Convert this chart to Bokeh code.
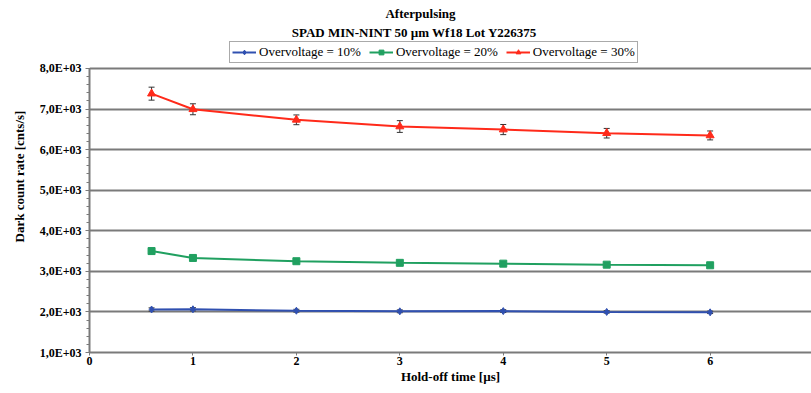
from bokeh.plotting import figure
from bokeh.models import (Legend, LegendItem, Label, Whisker, ColumnDataSource,
                          FixedTicker, Range1d)
from bokeh.embed import file_html
from bokeh.resources import INLINE

# ---- data ----
hold_off = [0.6, 1, 2, 3, 4, 5, 6]
ov10 = [2060, 2065, 2030, 2015, 2020, 2000, 1990]
ov10_err = [40, 40, 35, 35, 35, 30, 30]
ov20 = [3500, 3330, 3250, 3210, 3190, 3165, 3150]
ov20_err = [70, 60, 50, 50, 45, 45, 45]
ov30 = [7380, 6995, 6735, 6570, 6495, 6405, 6350]
ov30_err = [160, 135, 120, 145, 125, 118, 110]
series_names = ["Overvoltage = 10%", "Overvoltage = 20%", "Overvoltage = 30%"]
x_ticks = [0, 1, 2, 3, 4, 5, 6]
y_ticks = [1000, 2000, 3000, 4000, 5000, 6000, 7000, 8000]
y_tick_labels = ["1,0E+03", "2,0E+03", "3,0E+03", "4,0E+03", "5,0E+03",
                 "6,0E+03", "7,0E+03", "8,0E+03"]
title1 = "Afterpulsing"
title2 = "SPAD MIN-NINT 50 \u00b5m Wf18 Lot Y226375"
x_label = "Hold-off time [\u00b5s]"
y_label = "Dark count rate [cnts/s]"

colors = ["#3050b0", "#20a060", "#ff2a1a"]
SERIF = "'Liberation Serif', serif"

Y_MIN, Y_MAX = 1000, 8000
# frame extends above the value axis to host the titles and the legend
p = figure(width=811, height=393, output_backend="svg", toolbar_location=None,
           x_range=Range1d(0, 6.98), y_range=Range1d(Y_MIN, 9676),
           min_border_left=89, min_border_top=0, min_border_bottom=41,
           min_border_right=0)
p.outline_line_color = None
p.background_fill_color = "white"
p.title.visible = False

# grid
p.xgrid.grid_line_color = None
p.ygrid.grid_line_color = "#7a7a7a"
p.ygrid.grid_line_width = 2
p.ygrid.ticker = FixedTicker(ticks=y_ticks)

# axes
p.xaxis.ticker = FixedTicker(ticks=x_ticks)
p.yaxis.ticker = FixedTicker(ticks=y_ticks,
                             minor_ticks=[v for v in range(1000, 8001, 200)])
p.yaxis.bounds = (Y_MIN, Y_MAX)
p.yaxis.major_label_overrides = {v: l for v, l in zip(y_ticks, y_tick_labels)}
for ax in (p.xaxis[0], p.yaxis[0]):
    ax.axis_line_color = "#7a7a7a"
    ax.axis_line_width = 2
    ax.major_tick_line_color = "#7a7a7a"
    ax.minor_tick_line_color = "#7a7a7a"
    ax.major_label_text_font = SERIF
    ax.major_label_text_font_style = "bold"
    ax.major_label_text_font_size = "12px"
    ax.major_label_text_color = "black"
    ax.axis_label_text_font = SERIF
    ax.axis_label_text_font_style = "bold"
    ax.axis_label_text_font_size = "13px"
    ax.axis_label_text_color = "black"
p.xaxis.major_tick_in = 0
p.xaxis.major_tick_out = 3
p.xaxis.minor_tick_out = 0
p.xaxis.minor_tick_in = 0
p.xaxis.major_label_standoff = 1
p.xaxis.axis_label = x_label
p.xaxis.axis_label_standoff = 1
p.yaxis.major_tick_in = 3
p.yaxis.major_tick_out = 4
p.yaxis.minor_tick_out = 3
p.yaxis.minor_tick_in = 0
p.yaxis.major_label_standoff = 4
p.yaxis.axis_label = y_label
p.yaxis.axis_label_standoff = 10

# series
items = []
markers = ["diamond", "square", "triangle"]
msize = [7, 7, 8]
for name, vals, errs, col, mk, ms in zip(series_names, [ov10, ov20, ov30],
                                         [ov10_err, ov20_err, ov30_err], colors,
                                         markers, msize):
    src = ColumnDataSource(dict(x=hold_off, y=vals,
                                lo=[v - e for v, e in zip(vals, errs)],
                                hi=[v + e for v, e in zip(vals, errs)]))
    w = Whisker(source=src, base="x", lower="lo", upper="hi",
                line_color="#333333", line_width=1)
    w.upper_head.size = 6
    w.lower_head.size = 6
    w.upper_head.line_color = "#333333"
    w.lower_head.line_color = "#333333"
    p.add_layout(w)
    ln = p.line("x", "y", source=src, line_color=col, line_width=2)
    sc = p.scatter("x", "y", source=src, marker=mk, size=ms, fill_color=col,
                   line_color=col)
    items.append(LegendItem(label=name, renderers=[ln, sc]))

legend = Legend(items=items, orientation="horizontal",
                location=(140, 289), border_line_color="#555555",
                border_line_width=1.5, label_text_font=SERIF,
                label_text_font_size="13px", label_text_color="black",
                glyph_width=24, glyph_height=12, label_standoff=3, spacing=8,
                padding=2, margin=0, label_height=14,
                background_fill_alpha=1)
p.add_layout(legend, "center")

# titles
for txt, xx, yy in [(title1, 331, 339), (title2, 325, 320)]:
    p.add_layout(Label(x=xx, y=yy, x_units="screen", y_units="screen",
                       text=txt, text_font=SERIF, text_font_style="bold",
                       text_font_size="13px", text_align="center",
                       text_baseline="middle", text_color="black"))

open("out.html", "w").write(file_html(p, INLINE))
